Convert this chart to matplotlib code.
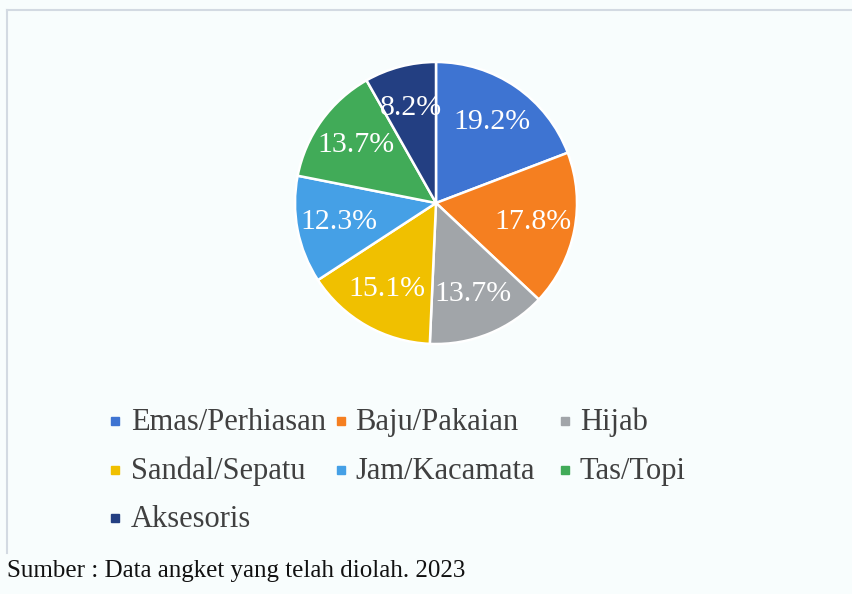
import matplotlib
matplotlib.use("Agg")
import matplotlib.pyplot as plt
from matplotlib.lines import Line2D

categories = ["Emas/Perhiasan", "Baju/Pakaian", "Hijab", "Sandal/Sepatu",
              "Jam/Kacamata", "Tas/Topi", "Aksesoris"]
values = [19.2, 17.8, 13.7, 15.1, 12.3, 13.7, 8.2]
colors = ["#3E74D2", "#F57F20", "#A1A5A9", "#F0C000", "#45A0E6", "#41AB58", "#233F82"]
caption = "Sumber : Data angket yang telah diolah. 2023"

W, H = 853, 594
bg = "#F8FDFD"
plt.rcParams['font.family'] = ['Liberation Serif', 'DejaVu Serif']
fig = plt.figure(figsize=(W / 100, H / 100), dpi=100, facecolor=bg)

# frame lines (top and left only visible)
border = "#D3DAE2"
fig.add_artist(Line2D([7 / W, 1.0], [1 - 9.5 / H, 1 - 9.5 / H], color=border, lw=1.5))
fig.add_artist(Line2D([7 / W, 7 / W], [1 - 9.5 / H, 1 - 553 / H], color=border, lw=1.5))

cx, cy, r = 436, 203, 141
ax = fig.add_axes([(cx - r) / W, (H - cy - r) / H, 2 * r / W, 2 * r / H])
ax.set_facecolor(bg)
wedges, texts, autotexts = ax.pie(
    values, colors=colors, startangle=90, counterclock=False,
    autopct=lambda p: f"{p:.1f}%", pctdistance=0.7,
    wedgeprops=dict(edgecolor="white", linewidth=1.8),
    textprops=dict(color="white", fontsize=21.5))
ax.set_aspect("equal")
ax.set_xlim(-1, 1)
ax.set_ylim(-1, 1)
ax.axis("off")

# legend laid out row-wise in 3 fixed-width columns (Excel style)
col_marker_x = [115.5, 341, 565.5]
col_text_x = [131, 355, 580]
row_y = [421, 470, 518]
for i, (lab, c) in enumerate(zip(categories, colors)):
    row, col = divmod(i, 3)
    y = 1 - row_y[row] / H
    fig.add_artist(Line2D([col_marker_x[col] / W], [y], marker="s", linestyle="none",
                          markersize=5.8, markerfacecolor=c, markeredgecolor=c))
    fig.text(col_text_x[col] / W, 1 - (row_y[row] + 9) / H, lab, fontsize=22,
             color="#404040", ha="left", va="baseline")

fig.text(7 / W, 1 - 577 / H, caption, fontsize=18, color="#111111",
         ha="left", va="baseline")

fig.savefig("out.png", dpi=100, facecolor=bg)
